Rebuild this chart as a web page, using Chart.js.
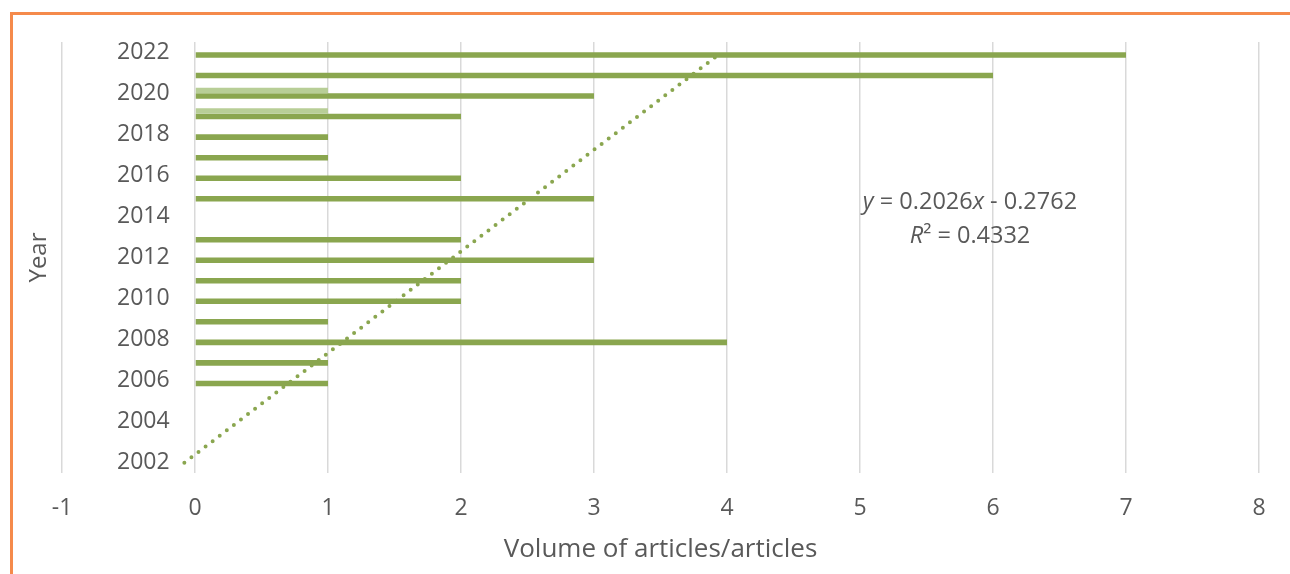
<!DOCTYPE html>
<html>
<head>
<meta charset="utf-8">
<script src="https://cdn.jsdelivr.net/npm/chart.js@4/dist/chart.umd.min.js"></script>
<style>
  html, body { margin: 0; padding: 0; background: #ffffff; }
  #wrap { position: relative; width: 1290px; height: 574px; overflow: hidden; background: #ffffff; }
  #c { position: absolute; left: 0; top: 0; }
  #frame { position: absolute; left: 9.5px; top: 12px; width: 1300px; height: 600px;
           border-top: 3px solid #F58A4B; border-left: 3px solid #F58A4B; pointer-events: none; }
  #eq { position: absolute; left: 820px; width: 300px; top: 183px; text-align: center;
        font-family: "Open Sans", Lato, sans-serif; font-size: 23.5px; line-height: 34px; color: #595959; }
</style>
</head>
<body>
<div id="wrap">
  <canvas id="c" width="1290" height="574"></canvas>
  <div id="frame"></div>
  <div id="eq"><i>y</i> = 0.2026<i>x</i> - 0.2762<br><i>R</i>² = 0.4332</div>
</div>
<script>
// Categories (top to bottom, as shown)
const years = ['2022','2021','2020','2019','2018','2017','2016','2015','2014','2013','2012',
               '2011','2010','2009','2008','2007','2006','2005','2004','2003','2002'];
// Main series: volume of articles per year
const articles = [7, 6, 3, 2, 1, 1, 2, 3, null, 2, 3, 2, 2, 1, 4, 1, 1, null, null, null, null];
// Secondary (light) series
const secondary = [null, null, 1, 1, null, null, null, null, null, null, null,
                   null, null, null, null, null, null, null, null, null, null];
// Linear trendline end points (x value, year)
const trendX = [-0.08, 3.96];
const trendYears = ['2002', '2022'];
// X axis tick range
const xMin = -1, xMax = 8;

const textColor = '#595959';
const font = 'Open Sans';

new Chart(document.getElementById('c'), {
  type: 'bar',
  data: {
    labels: years,
    datasets: [
      {
        label: 'secondary',
        data: secondary,
        backgroundColor: '#B8CE97',
        categoryPercentage: 0.54,
        barPercentage: 1.0,
        order: 0
      },
      {
        label: 'articles',
        data: articles,
        backgroundColor: '#8AA64F',
        categoryPercentage: 0.54,
        barPercentage: 1.0,
        order: 0
      },
      {
        type: 'line',
        label: 'trend',
        data: trendX.map((v, i) => ({ x: v, y: trendYears[i] })),
        borderColor: '#8AA64F',
        borderWidth: 4,
        borderDash: [0, 8.9],
        borderCapStyle: 'round',
        pointRadius: 0,
        fill: false,
        order: -1
      }
    ]
  },
  options: {
    indexAxis: 'y',
    responsive: false,
    animation: false,
    layout: { padding: { top: 42, right: 31, left: 0, bottom: 0 } },
    plugins: { legend: { display: false }, tooltip: { enabled: false } },
    scales: {
      x: {
        type: 'linear',
        min: xMin,
        max: xMax,
        ticks: { stepSize: 1, color: textColor, font: { family: font, size: 23 }, padding: 22 },
        grid: { color: '#D9D9D9', lineWidth: 1.5, drawTicks: false },
        border: { display: false },
        title: { display: true, text: 'Volume of articles/articles', color: textColor,
                 font: { family: font, size: 26 }, padding: { top: 0, bottom: 9 } },
        afterFit: (s) => { s.height = 101; s.paddingLeft = 0; s.paddingRight = 0; }
      },
      y: {
        type: 'category',
        ticks: {
          autoSkip: false,
          mirror: true,
          padding: 55,
          color: textColor,
          font: { family: font, size: 23 },
          callback: function(value, index) {
            const lab = this.getLabelForValue(value);
            return (parseInt(lab) % 2 === 0) ? lab : '';
          }
        },
        grid: { display: false, drawTicks: false },
        border: { display: false },
        title: { display: true, text: 'Year', color: textColor,
                 font: { family: font, size: 24 }, padding: { top: 25, bottom: 0 } },
        afterFit: (s) => { s.width = 62; s.paddingTop = 0; s.paddingBottom = 0; }
      }
    }
  }
});
</script>
</body>
</html>
